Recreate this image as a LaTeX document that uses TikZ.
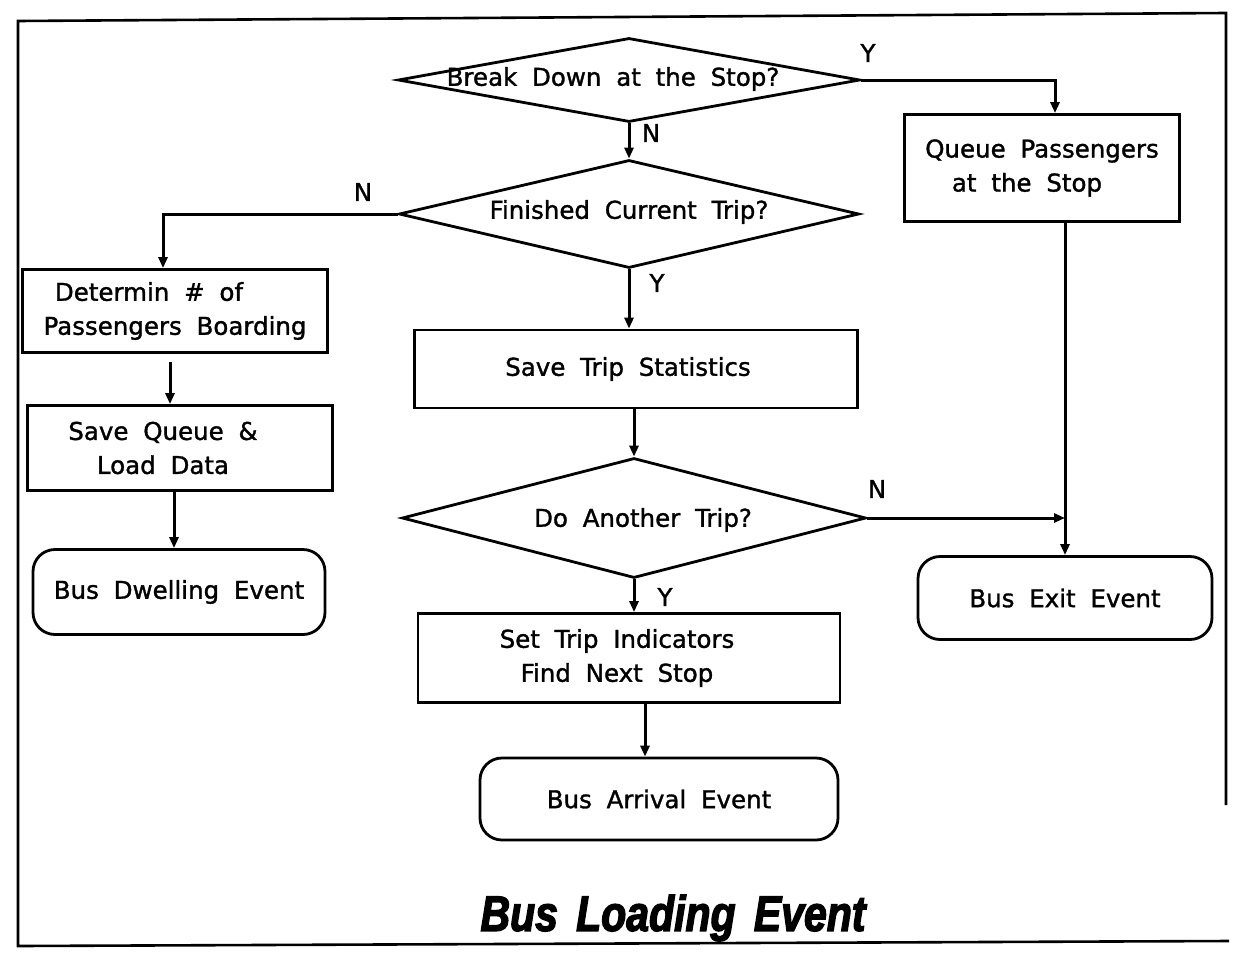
\documentclass[tikz,border=0pt]{standalone}
\usepackage{fontspec}
\setmainfont{DejaVu Sans}[WordSpace=1.9,FakeBold=1.3]
\newfontfamily\titlefont{Liberation Sans}[FakeStretch=0.82,WordSpace=1.6,FakeBold=2.6]
\usetikzlibrary{shapes.geometric,arrows.meta,calc}

\begin{document}
\begin{tikzpicture}[x=1pt,y=-1pt,
  every node/.style={font=\fontsize{24.5}{34}\selectfont},
  proc/.style={draw, line width=2.8pt, inner sep=0pt, align=center},
  term/.style={proc, rounded corners=22pt},
  decide/.style={draw, shape=diamond, line width=2.8pt, inner sep=0pt},
  flow/.style={line width=3pt, -{Triangle[length=11pt,width=9pt]}},
  tag/.style={inner sep=0pt}
]
\useasboundingbox (0,0) rectangle (1233,961);

% outer frame
\draw[line width=2.6pt] (1226,805) -- (1226,13) -- (18,21) -- (18,946) -- (1229,941);

% decisions
\node[decide, minimum width=462pt, minimum height=84pt] (d1) at (629,80) {};
\node (d1t) at (613,79) {Break Down at the Stop?};
\node[decide, minimum width=460pt, minimum height=108pt] (d2) at (629,214) {};
\node (d2t) at (629,212) {Finished Current Trip?};
\node[decide, minimum width=464pt, minimum height=120pt] (d3) at (634,518) {};
\node (d3t) at (643,520) {Do Another Trip?};

% process boxes
\node[proc, minimum width=275pt, minimum height=107pt] (q) at (1042,168) {Queue Passengers\\at the Stop\hspace*{30pt}};
\node[proc, minimum width=305pt, minimum height=83pt] (det) at (175,311) {Determin \# of\hspace*{52pt}\\Passengers Boarding};
\node[proc, minimum width=305pt, minimum height=85pt] (sq) at (180,448) {Save Queue \&\hspace*{34pt}\\Load Data\hspace*{34pt}};
\node[proc, minimum width=443pt, minimum height=78pt] (sts) at (636,369) {Save Trip Statistics\hspace*{16pt}};
\node[proc, minimum width=422pt, minimum height=89pt] (sti) at (629,658) {Set Trip Indicators\hspace*{24pt}\\Find Next Stop\hspace*{24pt}};

% terminal events
\node[term, minimum width=292pt, minimum height=85pt] (dw) at (179,592) {Bus Dwelling Event};
\node[term, minimum width=294pt, minimum height=83pt] (ex) at (1065,598) {Bus Exit Event};
\node[term, minimum width=358pt, minimum height=82pt] (ar) at (659,799) {Bus Arrival Event};

% connectors
\draw[flow] (d1.east) -| ([xshift=13pt]q.north);
\draw[flow] (d1.south) -- (d2.north);
\draw[flow] (d2.west) -| ([xshift=-12pt]det.north);
\draw[flow] (d2.south) -- (d2.south |- sts.north);
\draw[flow] ([shift={(-5pt,-8pt)}]det.south) -- ([xshift=-10pt]sq.north);
\draw[flow] ([xshift=-6pt]sq.south) -- ([xshift=-5pt]dw.north);
\draw[flow] (d3.north |- sts.south) -- (d3.north);
\draw[flow] (d3.east) -- (d3.east -| ex.north);
\draw[flow] (ex.north |- q.south) -- (ex.north);
\draw[flow] (d3.south) -- (d3.south |- sti.north);
\draw[flow] ([xshift=16pt]sti.south) -- ([xshift=-14pt]ar.north);

% branch labels
\node[tag] (y1) at (868,53) {Y};
\node[tag] (n1) at (651,133) {N};
\node[tag] (n2) at (363,192) {N};
\node[tag] (y2) at (657,283) {Y};
\node[tag] (n3) at (877,489) {N};
\node[tag] (y3) at (665,597) {Y};

% title
\node (title) at (673,918) {\titlefont\fontsize{50}{56}\selectfont\bfseries\itshape Bus Loading Event};
\end{tikzpicture}
\end{document}
